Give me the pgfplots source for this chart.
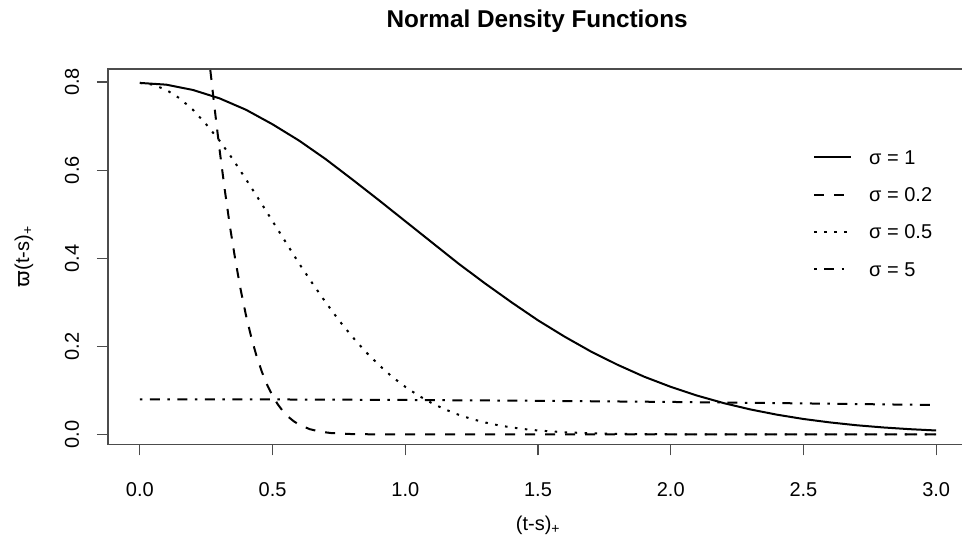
\documentclass[border=0pt]{standalone}
\usepackage{fontspec}
\setmainfont{Liberation Sans}
\newfontfamily\djv{DejaVu Sans}
\usepackage{pgfplots}
\pgfplotsset{compat=1.18}
\begin{document}
\begin{tikzpicture}
\path[use as bounding box] (0,0) rectangle (962pt,542pt);
\begin{axis}[
  at={(108pt,97.6pt)}, anchor=south west,
  scale only axis, width=860pt, height=375.4pt,
  xmin=-0.12, xmax=3.12, ymin=-0.0227, ymax=0.8296,
  tick pos=left, tick align=outside, major tick length=11pt,
  xtick={0,0.5,1,1.5,2,2.5,3},
  xticklabels={0.0,0.5,1.0,1.5,2.0,2.5,3.0},
  ytick={0,0.2,0.4,0.6,0.8},
  yticklabels={0.0,0.2,0.4,0.6,0.8},
  xticklabel shift=24pt, yticklabel shift=14.5pt,
  tick label style={font=\fontsize{20}{24}\selectfont, black},
  yticklabel style={rotate=90, anchor=south},
  label style={font=\fontsize{20}{24}\selectfont},
  title={Normal Density Functions},
  title style={font=\fontsize{24.3}{29}\selectfont\bfseries, at={(axis description cs:0.499,1.112)}, anchor=center},
  xlabel={(t-s)\textsubscript{+}},
  ylabel={{\djv ϖ}(t-s)\textsubscript{+}},
  xlabel style={at={(axis description cs:0.5,-0.2147)}, anchor=center},
  ylabel style={at={(axis description cs:-0.0977,0.5)}, anchor=center},
  axis line style={black!70, line width=1.2pt},
  every tick/.style={black!70, line width=1.2pt},
  legend image code/.code={\draw[#1] (0pt,0pt) -- (37pt,0pt);},
  legend cell align=left,
  legend style={draw=none, fill=none, at={(axis description cs:0.8198,0.7842)}, anchor=north west,
    inner sep=0pt, column sep=17pt, row sep=23.3pt,
    nodes={inner sep=0pt, text height=14pt, text depth=0pt},
    font=\fontsize{20}{24}\selectfont},
]
\addplot[black, line width=2pt] coordinates {
(0,0.798)(0.1,0.794)(0.2,0.782)(0.3,0.763)(0.4,0.737)(0.5,0.704)(0.6,0.667)(0.7,0.625)
(0.8,0.579)(0.9,0.532)(1.0,0.484)(1.1,0.436)(1.2,0.388)(1.3,0.343)(1.4,0.300)(1.5,0.259)
(1.6,0.222)(1.7,0.188)(1.8,0.158)(1.9,0.131)(2.0,0.108)(2.1,0.088)(2.2,0.071)(2.3,0.0567)
(2.4,0.0448)(2.5,0.0350)(2.6,0.0272)(2.7,0.0208)(2.8,0.0158)(2.9,0.0119)(3.0,0.0089)};
\addlegendentry{σ = 1}
\addplot[black, line width=2pt, dash pattern=on 10pt off 10pt] coordinates {
(0,1.995)(0.1,1.761)(0.2,1.210)(0.22,1.089)(0.24,0.971)(0.26,0.857)(0.28,0.749)(0.30,0.648)
(0.32,0.555)(0.34,0.470)(0.36,0.395)(0.38,0.328)(0.40,0.270)(0.42,0.220)(0.44,0.177)
(0.46,0.1416)(0.48,0.1120)(0.50,0.0876)(0.52,0.0679)(0.54,0.0521)(0.56,0.0396)(0.58,0.0297)
(0.60,0.0222)(0.64,0.0119)(0.68,0.0062)(0.72,0.0031)(0.8,0.0007)(0.9,0.0001)(1.0,0)(2.0,0)(3.0,0)};
\addlegendentry{σ = 0.2}
\addplot[black, line width=2pt, dash pattern=on 2.5pt off 7.5pt] coordinates {
(0,0.798)(0.05,0.794)(0.1,0.782)(0.15,0.763)(0.2,0.737)(0.25,0.704)(0.3,0.667)(0.35,0.625)
(0.4,0.579)(0.45,0.532)(0.5,0.484)(0.55,0.436)(0.6,0.388)(0.65,0.343)(0.7,0.300)(0.75,0.259)
(0.8,0.222)(0.85,0.188)(0.9,0.158)(0.95,0.131)(1.0,0.108)(1.05,0.088)(1.1,0.071)(1.15,0.0567)
(1.2,0.0448)(1.25,0.0350)(1.3,0.0272)(1.35,0.0208)(1.4,0.0158)(1.45,0.0119)(1.5,0.0089)
(1.6,0.0048)(1.7,0.0025)(1.8,0.0012)(2.0,0.0003)(2.5,0)(3.0,0)};
\addlegendentry{σ = 0.5}
\addplot[black, line width=2pt, dash pattern=on 2.5pt off 7.5pt on 10pt off 7.5pt] coordinates {
(0,0.0798)(0.5,0.0794)(1.0,0.0782)(1.5,0.0763)(2.0,0.0737)(2.5,0.0704)(3.0,0.0667)};
\addlegendentry{σ = 5}
\end{axis}
\end{tikzpicture}
\end{document}
